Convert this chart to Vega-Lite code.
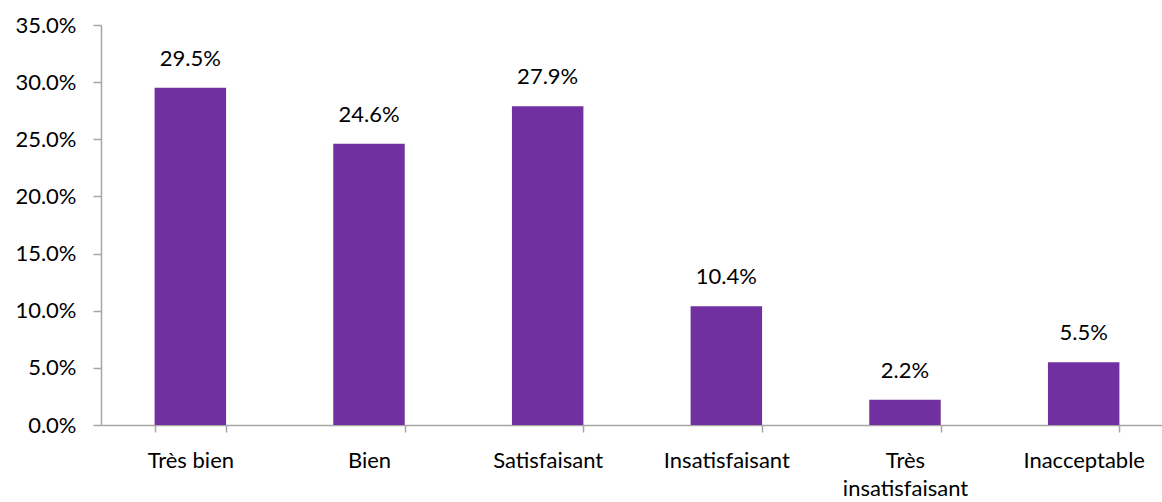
{
  "$schema": "https://vega.github.io/schema/vega-lite/v6.json",
  "width": 1072,
  "height": 400,
  "autosize": "none",
  "padding": {"left": 101, "top": 25, "right": 0, "bottom": 77},
  "background": "white",
  "config": {
    "view": {"stroke": null},
    "font": "Lato",
    "axis": {"grid": false, "domainColor": "#a6a6a6", "tickColor": "#a6a6a6", "labelColor": "#000000", "labelFont": "Lato", "labelFontSize": 22, "titleFontSize": 0}
  },
  "data": {
    "values": [
      {"cat": "Très bien", "v": 0.295},
      {"cat": "Bien", "v": 0.246},
      {"cat": "Satisfaisant", "v": 0.279},
      {"cat": "Insatisfaisant", "v": 0.104},
      {"cat": "Très insatisfaisant", "v": 0.022},
      {"cat": "Inacceptable", "v": 0.055}
    ]
  },
  "encoding": {
    "x": {
      "field": "cat", "type": "nominal", "sort": null, "title": null,
      "scale": {"paddingInner": 0.6, "paddingOuter": 0.3},
      "axis": {
        "labelAngle": 0, "tickBand": "extent", "tickSize": 7, "domainWidth": 1.5, "tickWidth": 1.5,
        "labelPadding": 18, "labelBaseline": "top", "labelLineHeight": 28,
        "labelExpr": "datum.value == 'Très insatisfaisant' ? ['Très', 'insatisfaisant'] : datum.value"
      }
    },
    "y": {
      "field": "v", "type": "quantitative", "title": null,
      "scale": {"domain": [0, 0.35], "nice": false},
      "axis": {"format": ".1%", "values": [0, 0.05, 0.1, 0.15, 0.2, 0.25, 0.3, 0.35], "tickSize": 8, "labelPadding": 17, "domainWidth": 1.5, "tickWidth": 1.5}
    }
  },
  "layer": [
    {"mark": {"type": "bar", "color": "#7030a0"}},
    {
      "mark": {"type": "text", "baseline": "bottom", "dy": -17, "fontSize": 22, "font": "Lato", "color": "#000000"},
      "encoding": {"text": {"field": "v", "type": "quantitative", "format": ".1%"}}
    }
  ]
}
